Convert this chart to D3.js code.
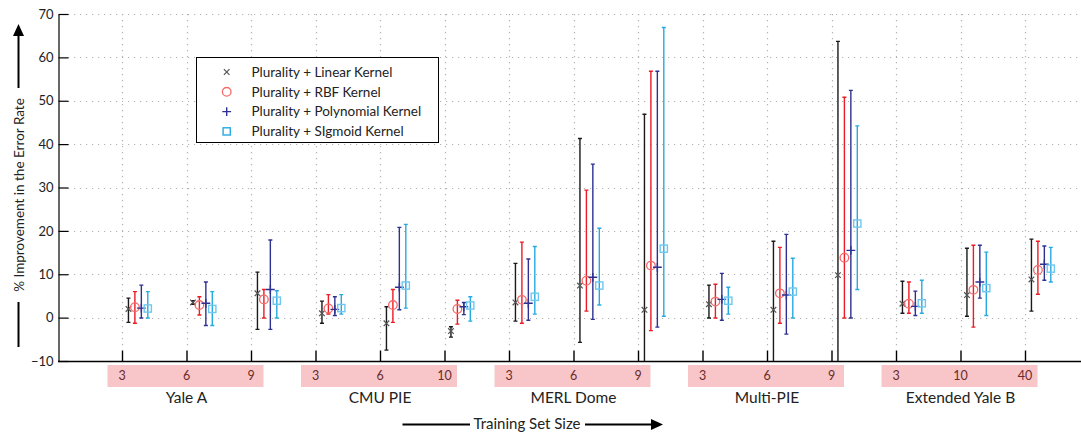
<!DOCTYPE html>
<html>
<head>
<meta charset="utf-8">
<script src="https://cdn.jsdelivr.net/npm/d3@7/dist/d3.min.js"></script>
<style>
  html, body { margin: 0; padding: 0; background: #fff; }
  svg { display: block; font-family: Lato, "Open Sans", sans-serif; }
</style>
</head>
<body>
<svg id="chart" width="1081" height="432"></svg>
<script>
// ---------------- data ----------------
const categories = ["3","6","9","3","6","10","3","6","9","3","6","9","3","10","40"];
const groups = ["Yale A","CMU PIE","MERL Dome","Multi-PIE","Extended Yale B"];
const seriesNames = ["Plurality + Linear Kernel","Plurality + RBF Kernel","Plurality + Polynomial Kernel","Plurality + SIgmoid Kernel"];
const yTicks = [-10,0,10,20,30,40,50,60,70];

const linearMean = [2.0,3.5,5.6, 1.0,-1.3,-3.1, 3.5,7.4,1.8, 3.1,1.8,9.8, 3.2,5.2,8.8];
const linearHigh = [4.5,3.9,10.5, 3.8,2.5,-2.1, 12.5,41.3,46.9, 7.5,17.6,63.7, 8.4,16.0,18.1];
const linearLow  = [-1.1,3.1,-2.7, -1.3,-7.5,-4.5, -0.8,-5.7,-15, -0.1,-15,-15, 1.0,0.3,1.5];

const rbfMean = [2.4,2.9,4.2, 2.1,2.9,2.0, 4.1,8.5,12.0, 3.7,5.6,13.8, 3.2,6.4,11.0];
const rbfHigh = [6.0,4.8,6.5, 5.3,6.5,4.0, 17.4,29.4,56.8, 7.7,16.2,50.8, 8.2,16.7,17.6];
const rbfLow  = [-1.3,0.6,-0.1, 0.85,-1.1,-1.5, -1.3,1.5,-3.0, -0.1,-1.3,-0.1, 1.0,-2.2,5.4];

const polyMean = [2.2,3.3,6.5, 1.9,7.0,2.5, 3.3,9.3,11.6, 4.2,5.2,15.5, 2.6,8.2,12.3];
const polyHigh = [7.5,8.2,17.9, 4.8,20.8,3.5, 13.5,35.4,56.8, 10.2,19.2,52.4, 6.1,16.7,16.5];
const polyLow  = [-0.1,-1.8,-2.7, 0.5,1.8,0.7, -0.6,-0.4,-2.2, -0.6,-3.8,-0.1, 0.5,4.5,8.6];

const sigMean = [2.1,2.0,3.9, 2.2,7.4,2.8, 4.8,7.4,15.9, 3.9,6.0,21.7, 3.3,6.8,11.3];
const sigHigh = [6.0,6.0,6.2, 5.3,21.5,4.8, 16.4,20.6,66.9, 7.0,13.7,44.2, 8.6,15.1,16.2];
const sigLow  = [-0.1,-1.8,-0.1, 0.8,2.2,-0.8, 0.8,2.9,0.3, 0.8,-0.1,6.5, 1.0,0.5,8.2];

// ---------------- layout / styles ----------------
const series = [
  {name: seriesNames[0], mean: linearMean, hi: linearHigh, lo: linearLow, bar: "#1a1a1a", mk: "#555555", shape: "x"},
  {name: seriesNames[1], mean: rbfMean,    hi: rbfHigh,    lo: rbfLow,    bar: "#ed1c24", mk: "#f26a6a", shape: "o"},
  {name: seriesNames[2], mean: polyMean,   hi: polyHigh,   lo: polyLow,   bar: "#2e3192", mk: "#2e3192", shape: "+"},
  {name: seriesNames[3], mean: sigMean,    hi: sigHigh,    lo: sigLow,    bar: "#27aae1", mk: "#6fc7ef", shape: "s"}
];

const svg = d3.select("#chart");
const W = 1081, H = 432;
const plotLeft = 58, plotTop = 14, plotBottom = 361;

const x = d3.scaleLinear().domain([0, 16]).range([57.5, 57.5 + 16 * 64.5]);
const y = d3.scaleLinear().domain([-10, 70]).range([plotBottom, plotTop]);

svg.append("defs").append("clipPath").attr("id", "plotclip")
  .append("rect").attr("x", plotLeft).attr("y", plotTop - 2).attr("width", W - plotLeft).attr("height", plotBottom - plotTop + 2);

// grid
const grid = svg.append("g").attr("stroke", "#b3b3b3").attr("stroke-width", 1.2)
  .attr("stroke-dasharray", "1.2,4.8").attr("fill", "none");
yTicks.filter(v => v > -10).forEach(v => {
  grid.append("line").attr("x1", plotLeft + 10).attr("x2", W).attr("y1", Math.round(y(v)) + 0.5).attr("y2", Math.round(y(v)) + 0.5);
});
categories.forEach((c, i) => {
  const xx = Math.round(x(i + 1)) + 0.5;
  grid.append("line").attr("x1", xx).attr("x2", xx).attr("y1", plotTop).attr("y2", plotBottom - 11);
});

// axes
const yAxis = d3.axisLeft(y).tickValues(yTicks).tickSize(-10).tickSizeOuter(0).tickPadding(5);
const gy = svg.append("g").attr("transform", `translate(${plotLeft + 0.5},0)`).call(yAxis);
gy.selectAll("text").attr("font-size", 13).attr("fill", "#222").attr("font-family", "Lato, sans-serif");
gy.selectAll("line,path").attr("stroke", "#000").attr("stroke-width", 1.2);

const xAxis = d3.axisBottom(x).tickValues(d3.range(1, categories.length + 1)).tickSize(-11).tickSizeOuter(0).tickFormat("");
const gx = svg.append("g").attr("transform", `translate(0,${plotBottom + 0.5})`).call(xAxis);
gx.select(".domain").attr("d", `M${plotLeft},0H${W}`);
gx.selectAll("line,path").attr("stroke", "#000").attr("stroke-width", 1.4);

// error bars + markers
const plot = svg.append("g").attr("clip-path", "url(#plotclip)");
const cap = 2;
series.forEach((s, j) => {
  const g = plot.append("g");
  s.mean.forEach((m, i) => {
    const cx = x(i + 1 + 0.1 * (j + 1));
    const yh = y(s.hi[i]), yl = y(s.lo[i]);
    g.append("path")
      .attr("d", `M${cx},${yl}V${yh}M${cx - cap},${yh}H${cx + cap}M${cx - cap},${yl}H${cx + cap}`)
      .attr("stroke", s.bar).attr("stroke-width", 1.4).attr("fill", "none");
  });
});
function marker(g, shape, cx, cy, color, scale) {
  scale = scale || 1;
  if (shape === "x") {
    const r = 2.8 * scale;
    g.append("path").attr("d", `M${cx - r},${cy - r}L${cx + r},${cy + r}M${cx - r},${cy + r}L${cx + r},${cy - r}`)
      .attr("stroke", color).attr("stroke-width", 1.2).attr("fill", "none");
  } else if (shape === "o") {
    g.append("circle").attr("cx", cx).attr("cy", cy).attr("r", 4.3 * scale)
      .attr("stroke", color).attr("stroke-width", 1.3).attr("fill", "none");
  } else if (shape === "+") {
    const r = 4.4 * scale;
    g.append("path").attr("d", `M${cx - r},${cy}H${cx + r}M${cx},${cy - r}V${cy + r}`)
      .attr("stroke", color).attr("stroke-width", 1.4).attr("fill", "none");
  } else {
    const r = 3.6 * scale;
    g.append("rect").attr("x", cx - r).attr("y", cy - r).attr("width", 2 * r).attr("height", 2 * r)
      .attr("stroke", color).attr("stroke-width", 1.4).attr("fill", "none");
  }
}
series.forEach((s, j) => {
  const g = plot.append("g");
  s.mean.forEach((m, i) => {
    marker(g, s.shape, x(i + 1 + 0.1 * (j + 1)), y(m), s.mk);
  });
});

// legend
const lg = svg.append("g");
lg.append("rect").attr("x", 196.5).attr("y", 57.5).attr("width", 242).attr("height", 85)
  .attr("fill", "#fff").attr("stroke", "#000").attr("stroke-width", 1);
series.forEach((s, j) => {
  const ly = 72 + j * 19.8;
  marker(lg, s.shape, 226.7, ly, s.shape === "s" ? s.bar : s.mk);
  lg.append("text").attr("x", 251.5).attr("y", ly).attr("dy", "0.36em")
    .attr("font-size", 13.5).attr("fill", "#222").text(s.name);
});

// group labels (pink boxes)
const lab = svg.append("g");
groups.forEach((gname, k) => {
  const mid = x(k * 3 + 2);
  lab.append("rect").attr("x", mid - 79).attr("y", 365).attr("width", 156).attr("height", 22)
    .attr("fill", "#f8c6c9");
  for (let t = 0; t < 3; t++) {
    const i = k * 3 + t;
    lab.append("text").attr("x", x(i + 1)).attr("y", 380).attr("text-anchor", "middle")
      .attr("font-size", 12.5).attr("fill", "#6b2a2a").text(categories[i]);
  }
  lab.append("text").attr("x", mid).attr("y", 403).attr("text-anchor", "middle")
    .attr("font-size", 15.5).attr("fill", "#222").text(gname);
});

// x title with arrow
const xt = svg.append("g");
xt.append("text").attr("x", 527).attr("y", 428.5).attr("text-anchor", "middle")
  .attr("font-size", 15).attr("fill", "#222").text("Training Set Size");
xt.append("line").attr("x1", 402.5).attr("x2", 470).attr("y1", 424.5).attr("y2", 424.5).attr("stroke", "#000").attr("stroke-width", 2);
xt.append("line").attr("x1", 585).attr("x2", 652).attr("y1", 424.5).attr("y2", 424.5).attr("stroke", "#000").attr("stroke-width", 2);
xt.append("path").attr("d", "M663,424.5L651,419L651,430Z").attr("fill", "#000");

// y title with arrow
const yt = svg.append("g");
yt.append("text").attr("transform", "translate(19.5,195) rotate(-90)").attr("text-anchor", "middle")
  .attr("dy", "0.36em").attr("font-size", 13.5).attr("fill", "#222").text("% Improvement in the Error Rate");
yt.append("line").attr("x1", 18.5).attr("x2", 18.5).attr("y1", 88).attr("y2", 35).attr("stroke", "#000").attr("stroke-width", 2);
yt.append("path").attr("d", "M18.5,24L13,36L24,36Z").attr("fill", "#000");
yt.append("line").attr("x1", 18.5).attr("x2", 18.5).attr("y1", 302).attr("y2", 347).attr("stroke", "#000").attr("stroke-width", 2);
</script>
</body>
</html>
